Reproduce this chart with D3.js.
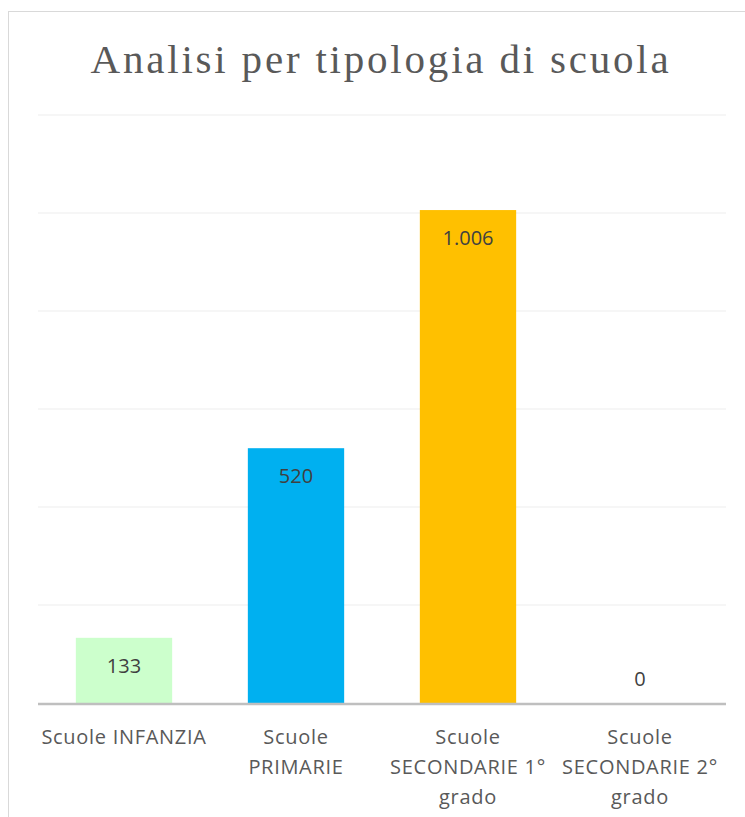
<!DOCTYPE html>
<meta charset="utf-8">
<head>
    <script src="https://d3js.org/d3.v7.min.js"></script>
    <style>
        body { margin: 0; background: #fff; }
        text { font-family: "Open Sans", "Noto Sans", sans-serif; }
    </style>
</head>
<body>
    <svg></svg>
    <script>
        // Data
        var categories = ["Scuole INFANZIA", "Scuole PRIMARIE", "Scuole SECONDARIE 1° grado", "Scuole SECONDARIE 2° grado"];
        var tickLines = [["Scuole INFANZIA"], ["Scuole", "PRIMARIE"], ["Scuole", "SECONDARIE 1°", "grado"], ["Scuole", "SECONDARIE 2°", "grado"]];
        var values = [133, 520, 1006, 0];
        var valueLabels = ["133", "520", "1.006", "0"];
        var colors = ["#ccffcc", "#00b0f0", "#ffc000", "#a5a5a5"];
        var gridTicks = [0, 200, 400, 600, 800, 1000, 1200];

        var width = 745, height = 817;
        var svg = d3.select("svg").attr("width", width).attr("height", height);

        // chart frame
        svg.append("rect")
            .attr("x", 8.5).attr("y", 11.5)
            .attr("width", 760).attr("height", 830)
            .attr("fill", "#fff")
            .attr("stroke", "#d9d9d9");

        svg.append("text")
            .attr("x", 381).attr("y", 73)
            .attr("text-anchor", "middle")
            .style("font-family", "'Liberation Serif', serif")
            .style("font-size", "41px")
            .style("letter-spacing", "2.8px")
            .attr("fill", "#595959")
            .text("Analisi per tipologia di scuola");

        var x = d3.scaleBand().domain(categories).range([38, 726]).paddingInner(0.44).paddingOuter(0.22);
        var y = d3.scaleLinear().domain([0, 1200]).range([703, 115]);

        // gridlines
        svg.append("g").selectAll("line")
            .data(gridTicks.slice(1))
            .enter().append("line")
            .attr("x1", 38).attr("x2", 726)
            .attr("y1", function (d) { return y(d); })
            .attr("y2", function (d) { return y(d); })
            .attr("stroke", "#ededed")
            .attr("stroke-width", 1.2);

        // bars
        svg.append("g").selectAll("rect")
            .data(values)
            .enter().append("rect")
            .attr("x", function (d, i) { return x(categories[i]); })
            .attr("y", function (d) { return y(d); })
            .attr("width", x.bandwidth())
            .attr("height", function (d) { return y(0) - y(d); })
            .attr("fill", function (d, i) { return colors[i]; });

        // baseline
        svg.append("line")
            .attr("x1", 38).attr("x2", 726)
            .attr("y1", y(0) + 1).attr("y2", y(0) + 1)
            .attr("stroke", "#bfbfbf")
            .attr("stroke-width", 2.5);

        // value labels
        svg.append("g").selectAll("text")
            .data(values)
            .enter().append("text")
            .attr("x", function (d, i) { return x(categories[i]) + x.bandwidth() / 2; })
            .attr("y", function (d) { return d > 0 ? y(d) + 35 : y(0) - 17; })
            .attr("text-anchor", "middle")
            .style("font-size", "20px")
            .attr("fill", "#404040")
            .text(function (d, i) { return valueLabels[i]; });

        // category labels
        var ticks = svg.append("g").selectAll("text")
            .data(categories)
            .enter().append("text")
            .attr("text-anchor", "middle")
            .style("font-size", "20px")
            .style("letter-spacing", "0.7px")
            .attr("fill", "#595959")
            .attr("transform", function (d) { return "translate(" + (x(d) + x.bandwidth() / 2) + ",744)"; });

        ticks.selectAll("tspan")
            .data(function (d, i) { return tickLines[i]; })
            .enter().append("tspan")
            .attr("x", 0)
            .attr("y", function (d, j) { return j * 30; })
            .text(function (d) { return d; });
    </script>
</body>
</html>
